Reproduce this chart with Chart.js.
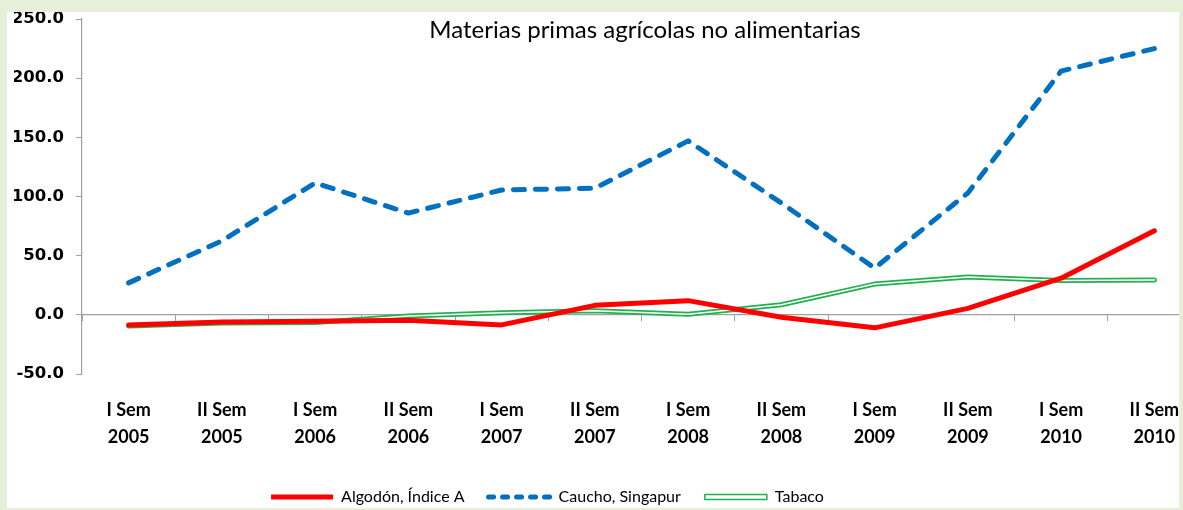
<!DOCTYPE html>
<html>
<head>
<meta charset="utf-8">
<script src="https://cdn.jsdelivr.net/npm/chart.js@4.4.0/dist/chart.umd.min.js"></script>
<style>
  html, body { margin: 0; padding: 0; width: 1183px; height: 510px; background: #e6efd9; overflow: hidden; }
  #wrap { position: absolute; left: 7px; top: 12px; width: 1172px; height: 496px; background: #fff; overflow: hidden; }
  #myChart { display: block; }
</style>
</head>
<body>
<div id="wrap">
  <canvas id="myChart" width="1232" height="503" style="width:1232px;height:503px"></canvas>
</div>
<script>
// chart data
const chartTitle = 'Materias primas agrícolas no alimentarias';
const semesters = ['I Sem', 'II Sem', 'I Sem', 'II Sem', 'I Sem', 'II Sem', 'I Sem', 'II Sem', 'I Sem', 'II Sem', 'I Sem', 'II Sem'];
const years = ['2005', '2005', '2006', '2006', '2007', '2007', '2008', '2008', '2009', '2009', '2010', '2010'];
const algodon = [-8.5, -6, -5.5, -4.5, -8.5, 8, 12, -2, -11, 5.5, 31, 71];
const caucho = [27, 62.5, 111.5, 86, 105.5, 107, 147, 94.5, 39.5, 103, 206, 225];
const tabaco = [-9.5, -7, -6.5, -1, 1.8, 3.5, 0.5, 8.5, 26, 32, 29, 29.5];
const seriesNames = ['Algodón, Índice A', 'Caucho, Singapur', 'Tabaco'];
const yTicks = [-50, 0, 50, 100, 150, 200, 250];

const categories = semesters.map(function(s, i) { return [s, years[i]]; });

// title sits inside the plot area, like the original
const titlePlugin = {
  id: 'insideTitle',
  afterDraw: function(chart) {
    const ctx = chart.ctx;
    ctx.save();
    ctx.font = '24px Lato';
    ctx.fillStyle = '#000';
    ctx.textAlign = 'center';
    ctx.textBaseline = 'middle';
    ctx.fillText(chartTitle, 638, 18);
    ctx.restore();
  }
};

// move the legend a bit to the left
const legendShift = {
  id: 'legendShift',
  afterLayout: function(chart) {
    chart.legend.left -= 60;
    chart.legend.right -= 60;
  }
};

document.addEventListener('DOMContentLoaded', function() {
  const ctx = document.getElementById('myChart').getContext('2d');

  new Chart(ctx, {
    type: 'line',
    data: {
      labels: categories,
      datasets: [{
        label: seriesNames[0],
        data: algodon,
        borderColor: '#ff0000',
        backgroundColor: '#ff0000',
        borderWidth: 5,
        pointRadius: 0,
        pointStyle: 'line',
        tension: 0,
        borderCapStyle: 'round',
        borderJoinStyle: 'round',
        order: 0
      }, {
        label: seriesNames[1],
        data: caucho,
        borderColor: '#0070c0',
        backgroundColor: '#0070c0',
        borderWidth: 5,
        borderDash: [11, 11],
        borderCapStyle: 'round',
        borderJoinStyle: 'round',
        pointRadius: 0,
        pointStyle: 'line',
        tension: 0,
        order: 3
      }, {
        label: seriesNames[2],
        data: tabaco,
        borderColor: '#22b04e',
        backgroundColor: '#ffffff',
        borderWidth: 5,
        borderCapStyle: 'round',
        borderJoinStyle: 'round',
        pointRadius: 0,
        pointStyle: 'rect',
        tension: 0,
        order: 2
      }, {
        // white core of the double green line
        label: 'tabaco-inner',
        data: tabaco,
        borderColor: '#ffffff',
        borderWidth: 1.6,
        borderCapStyle: 'round',
        borderJoinStyle: 'round',
        pointRadius: 0,
        tension: 0,
        order: 1
      }]
    },
    options: {
      responsive: false,
      animation: false,
      devicePixelRatio: 1,
      layout: { padding: { left: 7, right: 38, top: 7, bottom: 0 } },
      plugins: {
        title: { display: false },
        tooltip: { enabled: false },
        legend: {
          position: 'bottom',
          labels: {
            usePointStyle: true,
            pointStyleWidth: 62,
            boxHeight: 5,
            padding: 24,
            color: '#000',
            font: { family: 'Lato', size: 16 },
            filter: function(item) { return item.datasetIndex < 3; },
            sort: function(a, b) { return a.datasetIndex - b.datasetIndex; },
            generateLabels: function(chart) {
              const items = Chart.defaults.plugins.legend.labels.generateLabels(chart);
              items.forEach(function(it) {
                it.lineWidth = 5;
                if (it.datasetIndex === 1) {
                  it.lineDash = [5, 9];
                  it.lineCap = 'round';
                }
                if (it.datasetIndex === 2) {
                  it.lineWidth = 1.5;
                  it.fillStyle = '#ffffff';
                }
              });
              return items;
            }
          }
        }
      },
      scales: {
        x: {
          type: 'category',
          position: 'bottom',
          offset: true,
          grid: { display: false, drawTicks: false },
          border: { display: false },
          ticks: {
            autoSkip: false,
            maxRotation: 0,
            color: '#000',
            padding: 22.5,
            font: { family: 'Lato', weight: 'bold', size: 18, lineHeight: 1.5 }
          },
          afterFit: function(scale) { scale.height = 91; }
        },
        // axis line crossing at zero with the small tick marks
        x2: {
          type: 'category',
          position: { y: 0 },
          offset: true,
          grid: { display: true, drawOnChartArea: false, drawTicks: true, tickLength: 6, color: '#a0a0a0', offset: true },
          border: { display: true, color: '#a0a0a0', width: 1.2 },
          ticks: { display: false },
          afterFit: function(scale) { scale.height = 0; }
        },
        y: {
          min: yTicks[0],
          max: yTicks[yTicks.length - 1],
          afterBuildTicks: function(scale) {
            scale.ticks = yTicks.map(function(v) { return { value: v }; });
          },
          ticks: {
            color: '#000',
            padding: 12,
            font: { family: 'DejaVu Sans', weight: 'bold', size: 16.5 },
            callback: function(v) { return Number(v).toFixed(1); }
          },
          grid: { drawOnChartArea: false, drawTicks: true, tickLength: 6, color: '#a0a0a0' },
          border: { display: true, color: '#a0a0a0', width: 1.2 },
          afterFit: function(scale) {
            scale.width = 68;
            // the top label may sit close to the frame
            scale.paddingTop = 0;
            scale.paddingBottom = 0;
          }
        }
      }
    },
    plugins: [titlePlugin, legendShift]
  });
});
</script>
</body>
</html>
